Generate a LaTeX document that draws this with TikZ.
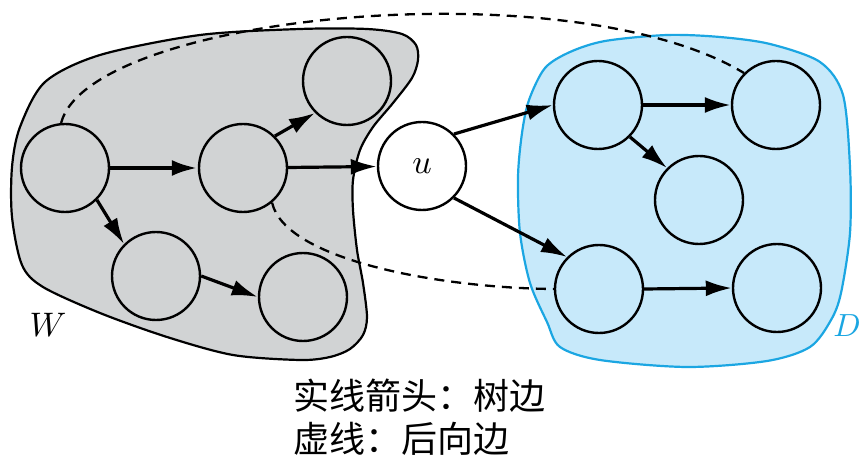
\documentclass[tikz,border=0pt]{standalone}
\usepackage{fontspec}
\newfontfamily\cjk{Noto Sans CJK SC}
\usetikzlibrary{arrows.meta}
\definecolor{wgray}{RGB}{209,211,212}
\definecolor{dblue}{RGB}{199,233,250}
\definecolor{dline}{RGB}{27,166,226}
\newcommand{\biglabel}[1]{\scalebox{3.4}{$#1$}}

\begin{document}
\begin{tikzpicture}[x=1pt,y=-1pt,>={Latex[length=26pt,width=16pt]},
    vertex/.style={draw,circle,line width=2.4pt,minimum size=88pt,inner sep=0pt},
    tree/.style={->,line width=3.2pt},
    back/.style={line width=2.3pt,dash pattern=on 10pt off 7pt}]
  \useasboundingbox (0,0) rectangle (863,457);
  \draw[line width=2.2pt,fill=wgray] plot[smooth cycle] coordinates {
    (300,29) (367,29) (402,34) (416,45) (418,60) (412,78) (393,103) (373,127)
    (360,150) (353,180) (353,210) (357,250) (363,283) (367,317) (363,335)
    (350,349) (330,357) (300,360) (233,355) (167,337) (100,313) (43,287)
    (22,265) (12,217) (12,167) (20,127) (45,82) (100,55) (200,35)};
  \draw[line width=2.2pt,draw=dline,fill=dblue] plot[smooth cycle] coordinates {
    (667,35) (720,37) (770,44) (820,62) (843,95) (850,167) (850,233) (841,293)
    (831,320) (810,347) (767,361) (687,367) (600,360) (560,347) (547,322)
    (530,283) (520,233) (518,177) (522,133) (529,100) (545,68) (570,52) (605,41)};
  \node[vertex] (w1) at (65,168) {};
  \node[vertex] (w2) at (243,168) {};
  \node[vertex] (w3) at (347,81) {};
  \node[vertex] (w4) at (156,276) {};
  \node[vertex] (w5) at (303,297) {};
  \node[vertex,fill=white] (u) at (422,166) {\biglabel{u}};
  \node[vertex] (d1) at (598,105) {};
  \node[vertex] (d2) at (776,105) {};
  \node[vertex] (d3) at (699,200) {};
  \node[vertex] (d4) at (599,289) {};
  \node[vertex] (d5) at (777,288) {};
  \node (wname) at (48,325) {\biglabel{W}};
  \node[text=dline,inner sep=0pt] (dname) at (847,326) {\scalebox{3.2}{$D$}};
  \draw[tree,line width=4.5pt] (w1)--(w2);
  \draw[tree] (w2.45)--(w3.225);
  \draw[tree] (w2)--(u);
  \draw[tree] (w1.-45)--(w4.135);
  \draw[tree] (w4.east)--(w5.west);
  \draw[tree] (u.45)--(d1.west);
  \draw[tree] (u.-45)--(d4.135);
  \draw[tree] (d1.east)--(d2.west);
  \draw[tree] (d1.-45)--(d3.135);
  \draw[tree] (d4.east)--(d5.west);
  \draw[back] (w1.95) .. controls (90,14) and (570,-32) .. (d2.135);
  \draw[back] (w2.-50) .. controls (285,260) and (440,288) .. (d4.west);
  \node[anchor=base west,align=left,inner sep=0pt,font=\cjk\fontsize{36}{43}\selectfont]
    (legend) at (293,452) {实线箭头：树边\\虚线：后向边};
\end{tikzpicture}
\end{document}
